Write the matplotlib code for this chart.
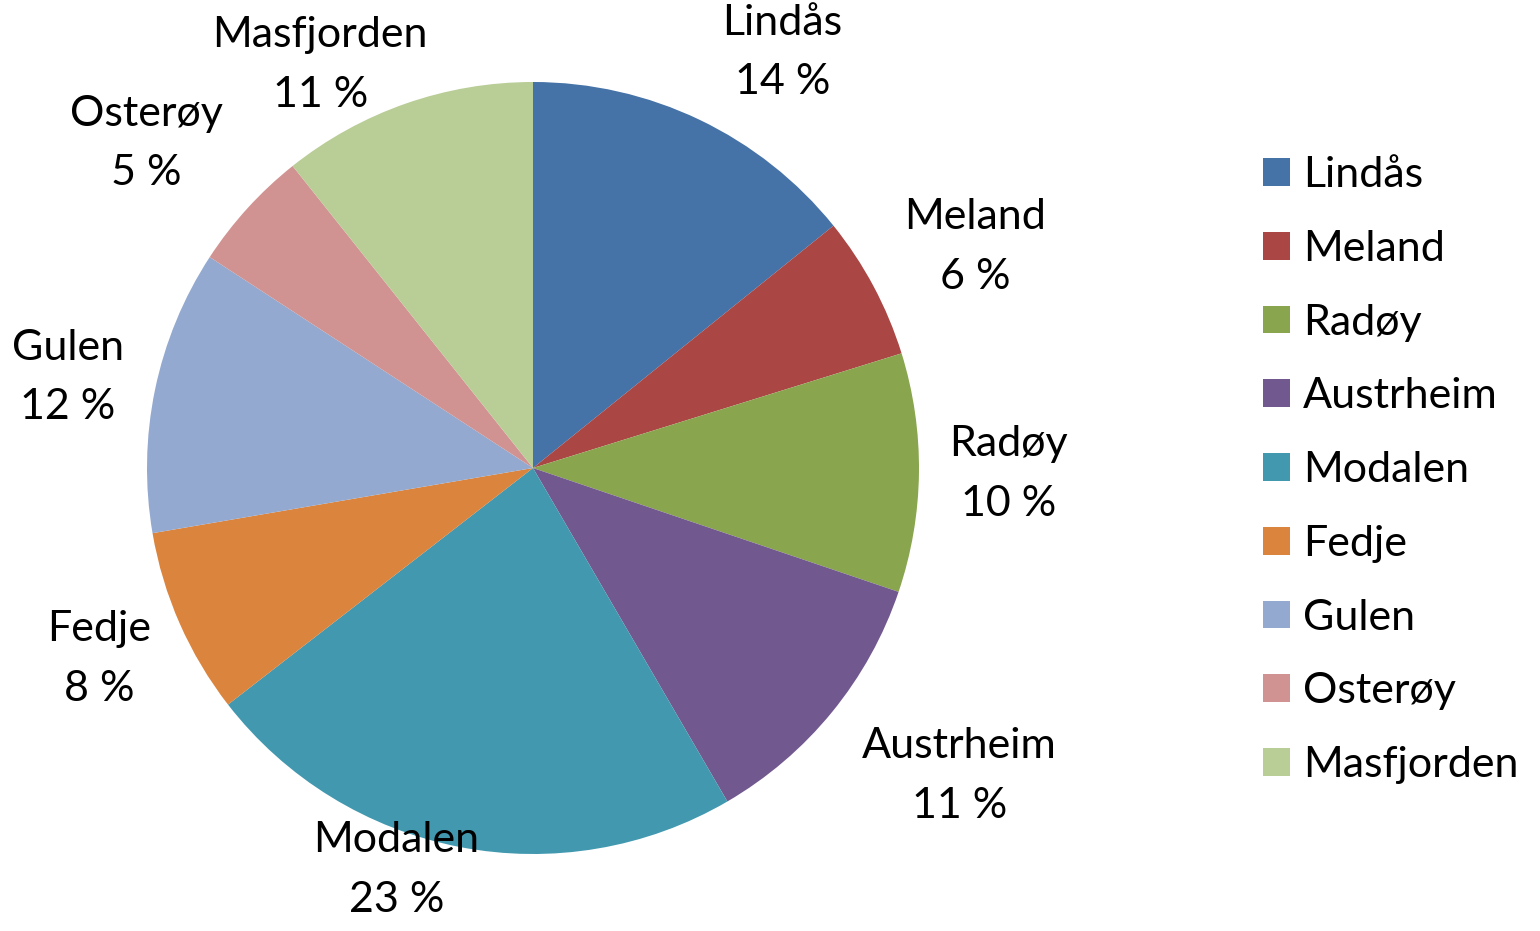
import matplotlib
matplotlib.use("Agg")
import numpy as np
import matplotlib.pyplot as plt

# kommuner og andel (lest av figuren)
kommuner = ["Lindås", "Meland", "Radøy", "Austrheim", "Modalen",
            "Fedje", "Gulen", "Osterøy", "Masfjorden"]
andel = [14.2, 6.0, 10.0, 11.4, 22.9, 7.8, 11.9, 5.1, 10.7]
farger = ["#4572A7", "#AA4643", "#89A54E", "#71588F", "#4198AF",
          "#DB843D", "#93A9CF", "#D19392", "#B9CD96"]
# etikettplassering: avstand (rel. radius) og vinkeljustering med klokka (grader)
avstand = [1.255, 1.28, 1.233, 1.363, 1.10, 1.228, 1.228, 1.308, 1.18]
vinkel_just = [5.4, 1.5, 0, -3.4, 7.8, 0, -0.7, -2.3, -8.6]

plt.rcParams['font.family'] = ['Lato', 'DejaVu Sans']

total = sum(andel)
etiketter = [f"{k}\n{round(v / total * 100):.0f} %" for k, v in zip(kommuner, andel)]

fig = plt.figure(figsize=(15.4, 9.31), dpi=100)
# pie centre at ~(533, 468) px, radius ~386 px
lim = 1.35
r_px = 386
half = lim * r_px
ax = fig.add_axes([(533 - half) / 1540, (931 - 468 - half) / 931,
                   2 * half / 1540, 2 * half / 931])
wedges, _ = ax.pie(andel, colors=farger, startangle=90, counterclock=False)
for w, tekst, d, dv in zip(wedges, etiketter, avstand, vinkel_just):
    mid = np.deg2rad((w.theta1 + w.theta2) / 2 - dv)
    ax.text(d * np.cos(mid), d * np.sin(mid), tekst, fontsize=31,
            ha='center', va='center', linespacing=1.7)
ax.set_xlim(-lim, lim)
ax.set_ylim(-lim, lim)
ax.set_aspect('equal')
ax.axis('off')

fig.legend(wedges, kommuner, loc='upper left', bbox_to_anchor=(1246 / 1540, 1 - 139 / 931),
           frameon=False, fontsize=31, handlelength=0.62, handleheight=0.62,
           handletextpad=0.3, labelspacing=0.83, borderaxespad=0)

fig.savefig("out.png", dpi=100)
